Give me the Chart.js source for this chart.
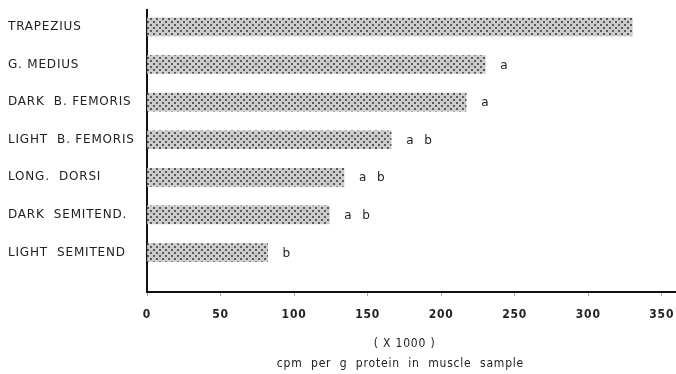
<!DOCTYPE html>
<html>
<head>
<meta charset="utf-8">
<script src="https://cdn.jsdelivr.net/npm/chart.js@4/dist/chart.umd.min.js"></script>
<style>
html,body{margin:0;padding:0;background:#fff;}
#wrap{width:676px;height:374px;position:relative;}
</style>
</head>
<body>
<div id="wrap"><canvas id="c"></canvas></div>
<script>
const categories = ["TRAPEZIUS", "G. MEDIUS", "DARK  B. FEMORIS", "LIGHT  B. FEMORIS", "LONG.  DORSI", "DARK  SEMITEND.", "LIGHT  SEMITEND"];
const values = [330, 230, 217, 166, 134, 124, 82];
const letters = ["", "a", "a", "a b", "a b", "a b", "b"];
const xTicks = [0, 50, 100, 150, 200, 250, 300, 350];
const xTitle = ["( X 1000 )   ", "cpm  per  g  protein  in  muscle  sample     "];

function makePattern() {
  const p = document.createElement('canvas');
  p.width = 6; p.height = 6;
  const g = p.getContext('2d');
  g.fillStyle = '#cbcbcb';
  g.fillRect(0, 0, 6, 6);
  g.fillStyle = '#5a5a5a';
  g.fillRect(0, 0, 2, 2);
  g.fillRect(3, 3, 2, 2);
  return g.createPattern(p, 'repeat');
}

const FONT = "'DejaVu Sans', sans-serif";
const FONT_C = "'DejaVu Sans Condensed', 'DejaVu Sans', sans-serif";

const spacingPlugin = {
  id: 'spacing',
  beforeDraw(chart) { chart.ctx.letterSpacing = '0.8px'; },
  afterDraw(chart) { chart.ctx.letterSpacing = '0px'; }
};

const letterPlugin = {
  id: 'letters',
  afterDatasetsDraw(chart) {
    const ctx = chart.ctx;
    const meta = chart.getDatasetMeta(0);
    ctx.save();
    ctx.font = "12px " + FONT;
    ctx.fillStyle = '#222';
    ctx.textBaseline = 'middle';
    ctx.textAlign = 'left';
    meta.data.forEach((el, i) => {
      const toks = letters[i].split(' ').filter(s => s);
      toks.forEach((t, k) => ctx.fillText(t, el.x + 15 + k * 18, el.y + 1));
    });
    ctx.restore();
  }
};

new Chart(document.getElementById('c'), {
  type: 'bar',
  data: {
    datasets: [{
      data: values.map((v, i) => ({x: v, y: i})),
      backgroundColor: makePattern(),
      borderWidth: 0,
      barThickness: 18
    }]
  },
  options: {
    indexAxis: 'y',
    responsive: true,
    maintainAspectRatio: false,
    animation: false,
    layout: {padding: {left: 8, top: 10, right: 1, bottom: 1}},
    plugins: {legend: {display: false}, tooltip: {enabled: false}},
    scales: {
      y: {
        type: 'linear',
        offset: false,
        min: -0.45,
        max: 7.05,
        reverse: true,
        afterBuildTicks(scale) { scale.ticks = categories.map((c, i) => ({value: i})); },
        afterFit(scale) { scale.width = 139; scale.paddingTop = 0; scale.paddingBottom = 0; },
        grid: {display: false},
        border: {display: true, color: '#111', width: 2},
        ticks: {
          crossAlign: 'far',
          color: '#222',
          font: {family: FONT, size: 12},
          callback: (v) => categories[v] !== undefined ? categories[v] : ''
        }
      },
      x: {
        type: 'linear',
        min: 0,
        max: 359,
        afterBuildTicks(scale) { scale.ticks = xTicks.map(v => ({value: v})); },
        afterFit(scale) { scale.height = 81; scale.paddingLeft = 0; scale.paddingRight = 0; },
        grid: {drawOnChartArea: false, drawTicks: true, tickLength: 4, color: '#aaa'},
        border: {display: true, color: '#111', width: 2},
        ticks: {color: '#222', padding: 12, font: {family: FONT_C, size: 12, weight: 'bold'}, maxRotation: 0},
        title: {
          display: true,
          text: xTitle,
          color: '#222',
          font: {family: FONT_C, size: 12, lineHeight: 1.6},
          padding: {top: 4, bottom: 0}
        }
      }
    }
  },
  plugins: [spacingPlugin, letterPlugin]
});
</script>
</body>
</html>
